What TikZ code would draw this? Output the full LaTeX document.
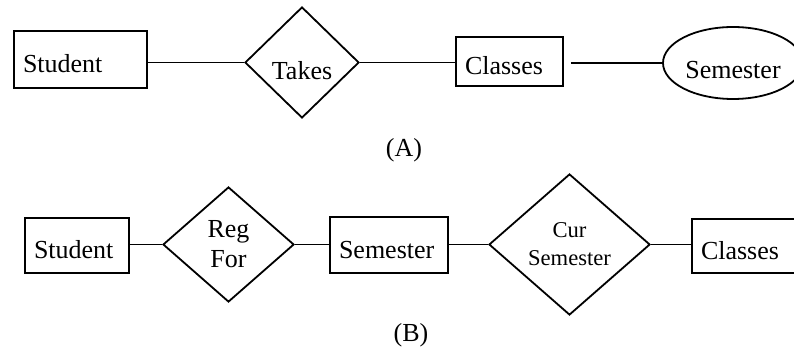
\documentclass[tikz,border=0pt]{standalone}
\usepackage{fontspec}
\setmainfont{Liberation Serif}
\usetikzlibrary{shapes}
\tikzset{erp/.style={
  x=1pt,
  y=-1pt,
  line width=1.8pt,
  font=\fontsize{26}{30}\selectfont
}}
\tikzset{ent/.style={
  draw,
  shape=rectangle,
  inner xsep=9pt,
  inner ysep=0pt,
  align=left,
  text height=27pt,
  text depth=0pt,
}}
\tikzset{rel/.style={
  draw,
  shape=diamond,
  inner sep=0pt,
  align=center,
}}
\tikzset{att/.style={
  draw,
  shape=ellipse,
  inner sep=0pt,
  text height=31pt,
  text depth=0pt,
}}
\begin{document}
\begin{tikzpicture}[erp]
    \useasboundingbox (0,0) rectangle (794,352);
    % (A)
    \node[ent,text width=115pt,minimum height=57pt] (stuA) at (80.5,59.5) {Student};
    \node[rel,minimum width=114pt,minimum height=111pt,
      text height=35pt,text depth=0pt] (takes) at (302,62.5) {Takes};
    \node[ent,text width=89pt,minimum height=49pt] (clsA) at (509.5,61.5) {Classes};
    \node[att,minimum width=140pt,minimum height=72pt] (semA) at (733,63) {Semester};
    \node (capA) at (404,150) {(A)};
    \draw (takes.west -| stuA.east) -- (takes.west);
    \draw (takes.east) -- (clsA.west |- takes.east);
    \draw[shorten <=7pt] (clsA.east |- semA.west) -- (semA.west);
    % (B)
    \node[ent,text width=86pt,minimum height=55pt] (stuB) at (77,245.5) {Student};
    \node[rel,minimum width=131pt,minimum height=115pt] (regfor) at (228.5,244.5) {Reg\\For};
    \node[ent,text width=100pt,minimum height=56pt] (semB) at (389,245) {Semester};
    \node[rel,minimum width=161pt,minimum height=141pt,
      font=\fontsize{22.6}{28}\selectfont] (cursem) at (569.5,244.5) {Cur\\Semester};
    \node[ent,text width=88pt,minimum height=54pt] (clsB) at (745,246) {Classes};
    \node (capB) at (411,335) {(B)};
    \draw (regfor.west -| stuB.east) -- (regfor.west);
    \draw (regfor.east) -- (semB.west |- regfor.east);
    \draw (semB.east |- cursem.west) -- (cursem.west);
    \draw (cursem.east) -- (clsB.west |- cursem.east);
\end{tikzpicture}
\end{document}
